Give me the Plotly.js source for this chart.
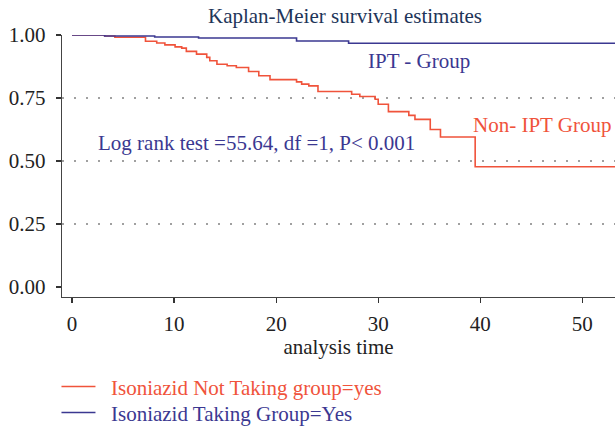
<!DOCTYPE html>
<html>
<head>
<meta charset="utf-8">
<script src="https://cdn.plot.ly/plotly-3.0.1.min.js"></script>
<style>html,body{margin:0;padding:0;background:#fff;}#chart{width:615px;height:428px;}</style>
</head>
<body>
<div id="chart"></div>
<script>
// Non-IPT group (Isoniazid Not Taking)
const nonIptTime = [0, 3.2, 4.2, 7.2, 8.3, 9.1, 10.1, 10.75, 11.2, 12.2, 13.2, 13.5, 14.2, 15.2, 16.1, 17.3, 18.3, 19.4, 22.0, 22.5, 23.2, 24.1, 27.4, 28.2, 29.7, 30.0, 31.0, 33.0, 33.6, 35.1, 36.1, 39.5, 53.5];
const nonIptSurv = [1, 0.996, 0.991, 0.975, 0.968, 0.961, 0.953, 0.948, 0.935, 0.924, 0.911, 0.898, 0.884, 0.878, 0.871, 0.855, 0.838, 0.823, 0.814, 0.805, 0.798, 0.776, 0.765, 0.756, 0.745, 0.725, 0.696, 0.681, 0.665, 0.625, 0.595, 0.477, 0.477];
// IPT group (Isoniazid Taking)
const iptTime = [0, 3.2, 8.1, 12.4, 22.0, 27.1, 53.5];
const iptSurv = [1, 0.996, 0.992, 0.988, 0.976, 0.967, 0.967];

const xTicks = [0, 10, 20, 30, 40, 50];
const yTicks = [0, 0.25, 0.5, 0.75, 1];
const yTickText = ['0.00', '0.25', '0.50', '0.75', '1.00'];
const gridVals = [0.25, 0.5, 0.75, 1];

const seriesNames = ['Isoniazid Not Taking group=yes', 'Isoniazid Taking Group=Yes'];
const RED = '#f0533b', BLUE = '#3b3891';
const FONT = 'Liberation Serif, Times New Roman, serif';
const FS = 21;

const traces = [
  {x: nonIptTime, y: nonIptSurv, mode: 'lines', line: {shape: 'hv', color: RED, width: 1.6}, legend: 'legend',
   name: '<span style="color:' + RED + '">&nbsp;&nbsp;' + seriesNames[0] + '</span>', hoverinfo: 'skip'},
  {x: iptTime, y: iptSurv, mode: 'lines', line: {shape: 'hv', color: BLUE, width: 1.6}, legend: 'legend2',
   name: '<span style="color:' + BLUE + '">&nbsp;&nbsp;' + seriesNames[1] + '</span>', hoverinfo: 'skip'}
];

const legendBase = {x: -0.01, xanchor: 'left', yanchor: 'top', orientation: 'v',
  font: {family: FONT, size: FS}, itemwidth: 34, bgcolor: 'rgba(0,0,0,0)', borderwidth: 0};

const layout = {
  width: 615, height: 428,
  margin: {l: 62, r: 0, t: 35, b: 131, autoexpand: false},
  paper_bgcolor: '#fff', plot_bgcolor: '#fff',
  font: {family: FONT, size: FS, color: '#222'},
  title: {text: 'Kaplan-Meier survival estimates', font: {family: FONT, size: FS, color: '#1e3559'},
          x: 0.561, xanchor: 'center', y: 0.963, yanchor: 'middle', xref: 'container', yref: 'container'},
  xaxis: {range: [-0.98, 53.2], tickvals: xTicks, ticks: 'outside', ticklen: 5, tickwidth: 1.2, tickcolor: '#333',
          showgrid: false, zeroline: false, showline: true, linecolor: '#444', linewidth: 1.3,
          tickfont: {family: FONT, size: FS, color: '#222'}, ticklabelstandoff: 2, automargin: false,
          title: {text: 'analysis time', font: {family: FONT, size: FS, color: '#222'}, standoff: 3}},
  yaxis: {range: [-0.04, 1.0], tickvals: yTicks, ticktext: yTickText, ticks: 'outside', ticklen: 5, tickwidth: 1.2, tickcolor: '#333',
          showgrid: false, zeroline: false, showline: true, linecolor: '#444', linewidth: 1.3, automargin: false,
          tickfont: {family: FONT, size: FS, color: '#222'}, ticklabelstandoff: 6,
          minor: {tickvals: gridVals, showgrid: true, gridcolor: '#a0a0a0', gridwidth: 1.5, griddash: '1.5px,10.5px', ticks: ''}},
  showlegend: true,
  legend: Object.assign({}, legendBase, {y: -0.2647}),
  legend2: Object.assign({}, legendBase, {y: -0.364}),
  annotations: [
    {x: 28.8, y: 0.895, xref: 'x', yref: 'y', text: 'IPT - Group', showarrow: false, xanchor: 'left', yanchor: 'middle',
     font: {family: FONT, size: FS, color: BLUE}},
    {x: 39.1, y: 0.641, xref: 'x', yref: 'y', text: 'Non- IPT Group', showarrow: false, xanchor: 'left', yanchor: 'middle',
     font: {family: FONT, size: FS, color: RED}},
    {x: 2.35, y: 0.573, xref: 'x', yref: 'y', text: 'Log rank test =55.64, df =1, P< 0.001', showarrow: false, xanchor: 'left', yanchor: 'middle',
     font: {family: FONT, size: FS, color: BLUE}}
  ]
};

Plotly.newPlot('chart', traces, layout, {displayModeBar: false, staticPlot: true});
</script>
</body>
</html>
